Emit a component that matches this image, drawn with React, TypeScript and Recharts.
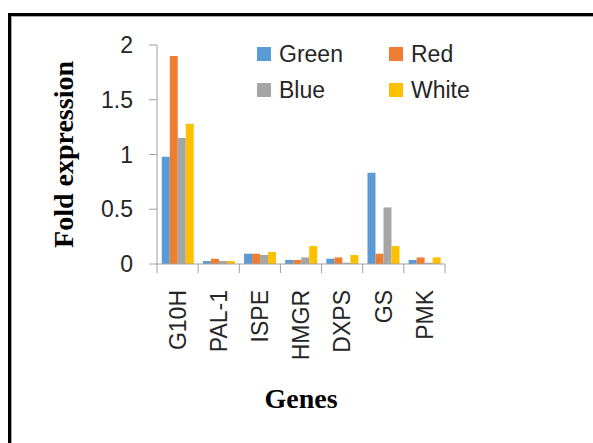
import { BarChart, Bar, XAxis, YAxis, Legend } from 'recharts';

const genes = ['G10H', 'PAL-1', 'ISPE', 'HMGR', 'DXPS', 'GS', 'PMK'];
const seriesNames = ['Green', 'Red', 'Blue', 'White'];
const seriesColors = ['#5B9BD5', '#ED7D31', '#A5A5A5', '#FFC000'];
const green = [0.98, 0.027, 0.094, 0.037, 0.048, 0.834, 0.037];
const red = [1.9, 0.048, 0.094, 0.037, 0.06, 0.094, 0.06];
const blue = [1.15, 0.027, 0.082, 0.06, 0.012, 0.517, 0.012];
const white = [1.28, 0.027, 0.11, 0.164, 0.082, 0.164, 0.06];
const yTicks = [0, 0.5, 1, 1.5, 2];

const seriesValues = [green, red, blue, white];

const data = genes.map((g, i) => {
  const row: Record<string, string | number> = { gene: g };
  seriesNames.forEach((s, k) => {
    row[s] = seriesValues[k][i];
  });
  return row;
});

const SANS = '"Liberation Sans", Arial, sans-serif';
const SERIF = '"Liberation Serif", "Times New Roman", serif';
const AXIS = '#a0a0a0';
const TEXT = '#262626';

// Excel puts category ticks between the groups, so draw them from the band offset
function GeneTick({ x, y, payload, index }: any) {
  const half = payload.offset || 0;
  const axisY = y - 26;
  return (
    <g>
      <line x1={x - half} x2={x - half} y1={axisY} y2={axisY + 9} stroke={AXIS} />
      {index === genes.length - 1 && (
        <line x1={x + half} x2={x + half} y1={axisY} y2={axisY + 9} stroke={AXIS} />
      )}
      <g transform={`translate(${x},${y})`}>
        <text
          transform="rotate(-90)"
          textAnchor="end"
          dy="0.36em"
          fontSize={23}
          fontFamily={SANS}
          fill={TEXT}
        >
          {payload.value}
        </text>
      </g>
    </g>
  );
}

function renderLegend({ payload }: any) {
  const items = [...(payload || [])].sort(
    (a: any, b: any) => seriesNames.indexOf(a.value) - seriesNames.indexOf(b.value)
  );
  return (
    <div
      style={{
        display: 'grid',
        gridTemplateColumns: '132px 132px',
        rowGap: 10,
        fontFamily: SANS,
        fontSize: 23,
        color: TEXT,
      }}
    >
      {items.map((p: any) => (
        <div key={p.value} style={{ display: 'flex', alignItems: 'center', height: 26 }}>
          <span style={{ width: 14, height: 14, background: p.color, marginRight: 8 }} />
          {p.value}
        </div>
      ))}
    </div>
  );
}

export default function App() {
  return (
    <div
      style={{
        position: 'fixed',
        left: 0,
        top: 0,
        width: 593,
        height: 443,
        overflow: 'hidden',
        background: '#fff',
      }}
    >
      <div
        style={{
          position: 'absolute',
          left: 8,
          top: 13,
          width: 700,
          height: 600,
          border: '3px solid #000',
          boxShadow: 'inset 0 0 0 1px #a8a8a8',
        }}
      />
      <div style={{ position: 'absolute', left: 0, top: 0 }}>
        <BarChart
          width={593}
          height={443}
          data={data}
          margin={{ top: 45, right: 148, left: 0, bottom: 0 }}
          barCategoryGap="11.6%"
          barGap={0}
        >
          <XAxis
            dataKey="gene"
            axisLine={{ stroke: AXIS }}
            tickLine={false}
            tickSize={0}
            tickMargin={26}
            interval={0}
            tick={<GeneTick />}
            height={179}
            label={{
              content: ({ viewBox }: any) => (
                <text
                  x={viewBox.x + viewBox.width / 2}
                  y={408}
                  textAnchor="middle"
                  fontFamily={SERIF}
                  fontWeight="bold"
                  fontSize={28}
                  fill="#000"
                >
                  Genes
                </text>
              ),
            }}
          />
          <YAxis
            domain={[0, 2]}
            ticks={yTicks}
            width={157}
            axisLine={{ stroke: AXIS }}
            tickLine={{ stroke: AXIS }}
            tickSize={8}
            tickMargin={16}
            tick={{ fontSize: 23, fontFamily: SANS, fill: TEXT }}
            label={{
              content: ({ viewBox }: any) => {
                const cx = 73;
                const cy = viewBox.y + viewBox.height / 2;
                return (
                  <text
                    x={cx}
                    y={cy}
                    transform={`rotate(-90, ${cx}, ${cy})`}
                    textAnchor="middle"
                    fontFamily={SERIF}
                    fontWeight="bold"
                    fontSize={28}
                    fill="#000"
                  >
                    Fold expression
                  </text>
                );
              },
            }}
          />
          <Legend
            layout="horizontal"
            align="center"
            verticalAlign="middle"
            content={renderLegend}
            wrapperStyle={{ left: 257, top: 41, width: 280 }}
          />
          {seriesNames.map((s, k) => (
            <Bar key={s} dataKey={s} fill={seriesColors[k]} isAnimationActive={false} />
          ))}
        </BarChart>
      </div>
    </div>
  );
}
